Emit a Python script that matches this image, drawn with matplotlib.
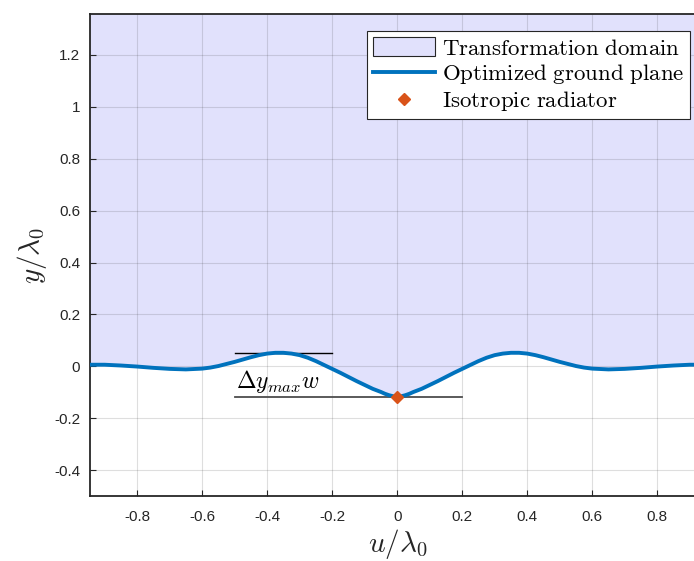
import matplotlib
matplotlib.use("Agg")
import matplotlib.pyplot as plt
from matplotlib.patches import Patch
from matplotlib.lines import Line2D

plt.rcParams["mathtext.fontset"] = "cm"
plt.rcParams["font.family"] = ["Liberation Sans", "DejaVu Sans"]

# Optimized ground plane profile (u / lambda0, y / lambda0)
u_vals = [-0.95, -0.90, -0.85, -0.80, -0.75, -0.70, -0.65, -0.60, -0.575, -0.55,
          -0.525, -0.50, -0.475, -0.45, -0.425, -0.40, -0.375, -0.35, -0.325, -0.30,
          -0.275, -0.25, -0.225, -0.20, -0.175, -0.15, -0.125, -0.10, -0.075, -0.05,
          -0.0375, -0.025, -0.0125, 0.0, 0.0125, 0.025, 0.0375, 0.05, 0.075, 0.10,
          0.125, 0.15, 0.175, 0.20, 0.225, 0.25, 0.275, 0.30, 0.325, 0.35,
          0.375, 0.40, 0.425, 0.45, 0.475, 0.50, 0.525, 0.55, 0.575, 0.60,
          0.65, 0.70, 0.75, 0.80, 0.85, 0.90, 0.95]
y_vals = [0.006, 0.006, 0.003, -0.001, -0.006, -0.010, -0.012, -0.009, -0.005, 0.001,
          0.009, 0.017, 0.026, 0.035, 0.043, 0.049, 0.052, 0.052, 0.049, 0.043,
          0.033, 0.020, 0.005, -0.010, -0.025, -0.041, -0.057, -0.072, -0.087, -0.099,
          -0.106, -0.1115, -0.1155, -0.117, -0.1155, -0.1115, -0.106, -0.099, -0.087, -0.072,
          -0.057, -0.041, -0.025, -0.010, 0.005, 0.020, 0.033, 0.043, 0.049, 0.052,
          0.052, 0.049, 0.043, 0.035, 0.026, 0.017, 0.009, 0.001, -0.005, -0.009,
          -0.012, -0.010, -0.006, -0.001, 0.003, 0.006, 0.006]

domain_top = 1.5

# Isotropic radiator position
radiator_u = [0.0]
radiator_y = [-0.117]

# Height-variation guide lines
peak_u = [-0.5, -0.2]
peak_y = [0.052, 0.052]
trough_u = [-0.5, 0.2]
trough_y = [-0.117, -0.117]

xticks = [-0.8, -0.6, -0.4, -0.2, 0, 0.2, 0.4, 0.6, 0.8]
xtick_labels = ["-0.8", "-0.6", "-0.4", "-0.2", "0", "0.2", "0.4", "0.6", "0.8"]
yticks = [-0.4, -0.2, 0, 0.2, 0.4, 0.6, 0.8, 1.0, 1.2]
ytick_labels = ["-0.4", "-0.2", "0", "0.2", "0.4", "0.6", "0.8", "1", "1.2"]

fill_color = "#E1E1FC"
line_color = "#0072BD"
marker_color = "#D95319"
axis_color = "#262626"

fig = plt.figure(figsize=(6.94, 5.61), dpi=100)
ax = fig.add_axes([90 / 694, 65 / 561, 616 / 694, 482 / 561])

ax.fill_between(u_vals, y_vals, domain_top, color=fill_color, lw=0, zorder=1)
ax.plot(u_vals, y_vals, color=line_color, lw=2.8, zorder=4,
        solid_capstyle="butt", solid_joinstyle="round")
ax.plot(peak_u, peak_y, color="black", lw=1.0, zorder=3)
ax.plot(trough_u, trough_y, color="#4d4d4d", lw=1.3, zorder=3)
ax.plot(radiator_u, radiator_y, ls="none", marker="D", ms=6.5, color=marker_color,
        markeredgecolor=marker_color, zorder=5)
ax.text(-0.495, -0.058, r"$\Delta y_{max}w$", fontsize=17, color="black",
        ha="left", va="center", zorder=6)

ax.set_xlim(-0.945, 0.95)
ax.set_ylim(-0.5, 1.358)

ax.set_xticks(xticks)
ax.set_xticklabels(xtick_labels)
ax.set_yticks(yticks)
ax.set_yticklabels(ytick_labels)

ax.grid(True, color="#262626", alpha=0.15, lw=0.8)
ax.set_axisbelow(False)
for gl in ax.get_xgridlines() + ax.get_ygridlines():
    gl.set_zorder(2)

ax.tick_params(direction="in", length=4, width=0.8, colors=axis_color,
               labelsize=11, top=False, right=False)
ax.tick_params(axis="x", pad=10)
ax.tick_params(axis="y", pad=7)
for side in ["left", "bottom", "top"]:
    ax.spines[side].set_color(axis_color)
    ax.spines[side].set_linewidth(1.3)
ax.spines["right"].set_visible(False)

ax.set_xlabel(r"$u/\lambda_0$", fontsize=21, color=axis_color, labelpad=2)
ax.set_ylabel(r"$y/\lambda_0$", fontsize=21, color=axis_color, labelpad=4)

handles = [
    Patch(facecolor=fill_color, edgecolor="#262626", lw=0.8),
    Line2D([0], [0], color=line_color, lw=2.8),
    Line2D([0], [0], ls="none", marker="D", ms=6.5, color=marker_color),
]
labels = [r"$\mathrm{Transformation\ domain}$",
          r"$\mathrm{Optimized\ ground\ plane}$",
          r"$\mathrm{Isotropic\ radiator}$"]
leg = ax.legend(handles, labels, loc="upper right",
                bbox_to_anchor=(690 / 694, 1 - 31 / 561),
                bbox_transform=fig.transFigure, borderaxespad=0,
                fontsize=16.5, frameon=True, fancybox=False, framealpha=1,
                edgecolor="#262626", handlelength=2.7, handleheight=0.9,
                handletextpad=0.3, borderpad=0.25, labelspacing=0.12)
leg.get_frame().set_linewidth(0.8)
leg.set_zorder(10)

fig.savefig("out.png", dpi=100)
